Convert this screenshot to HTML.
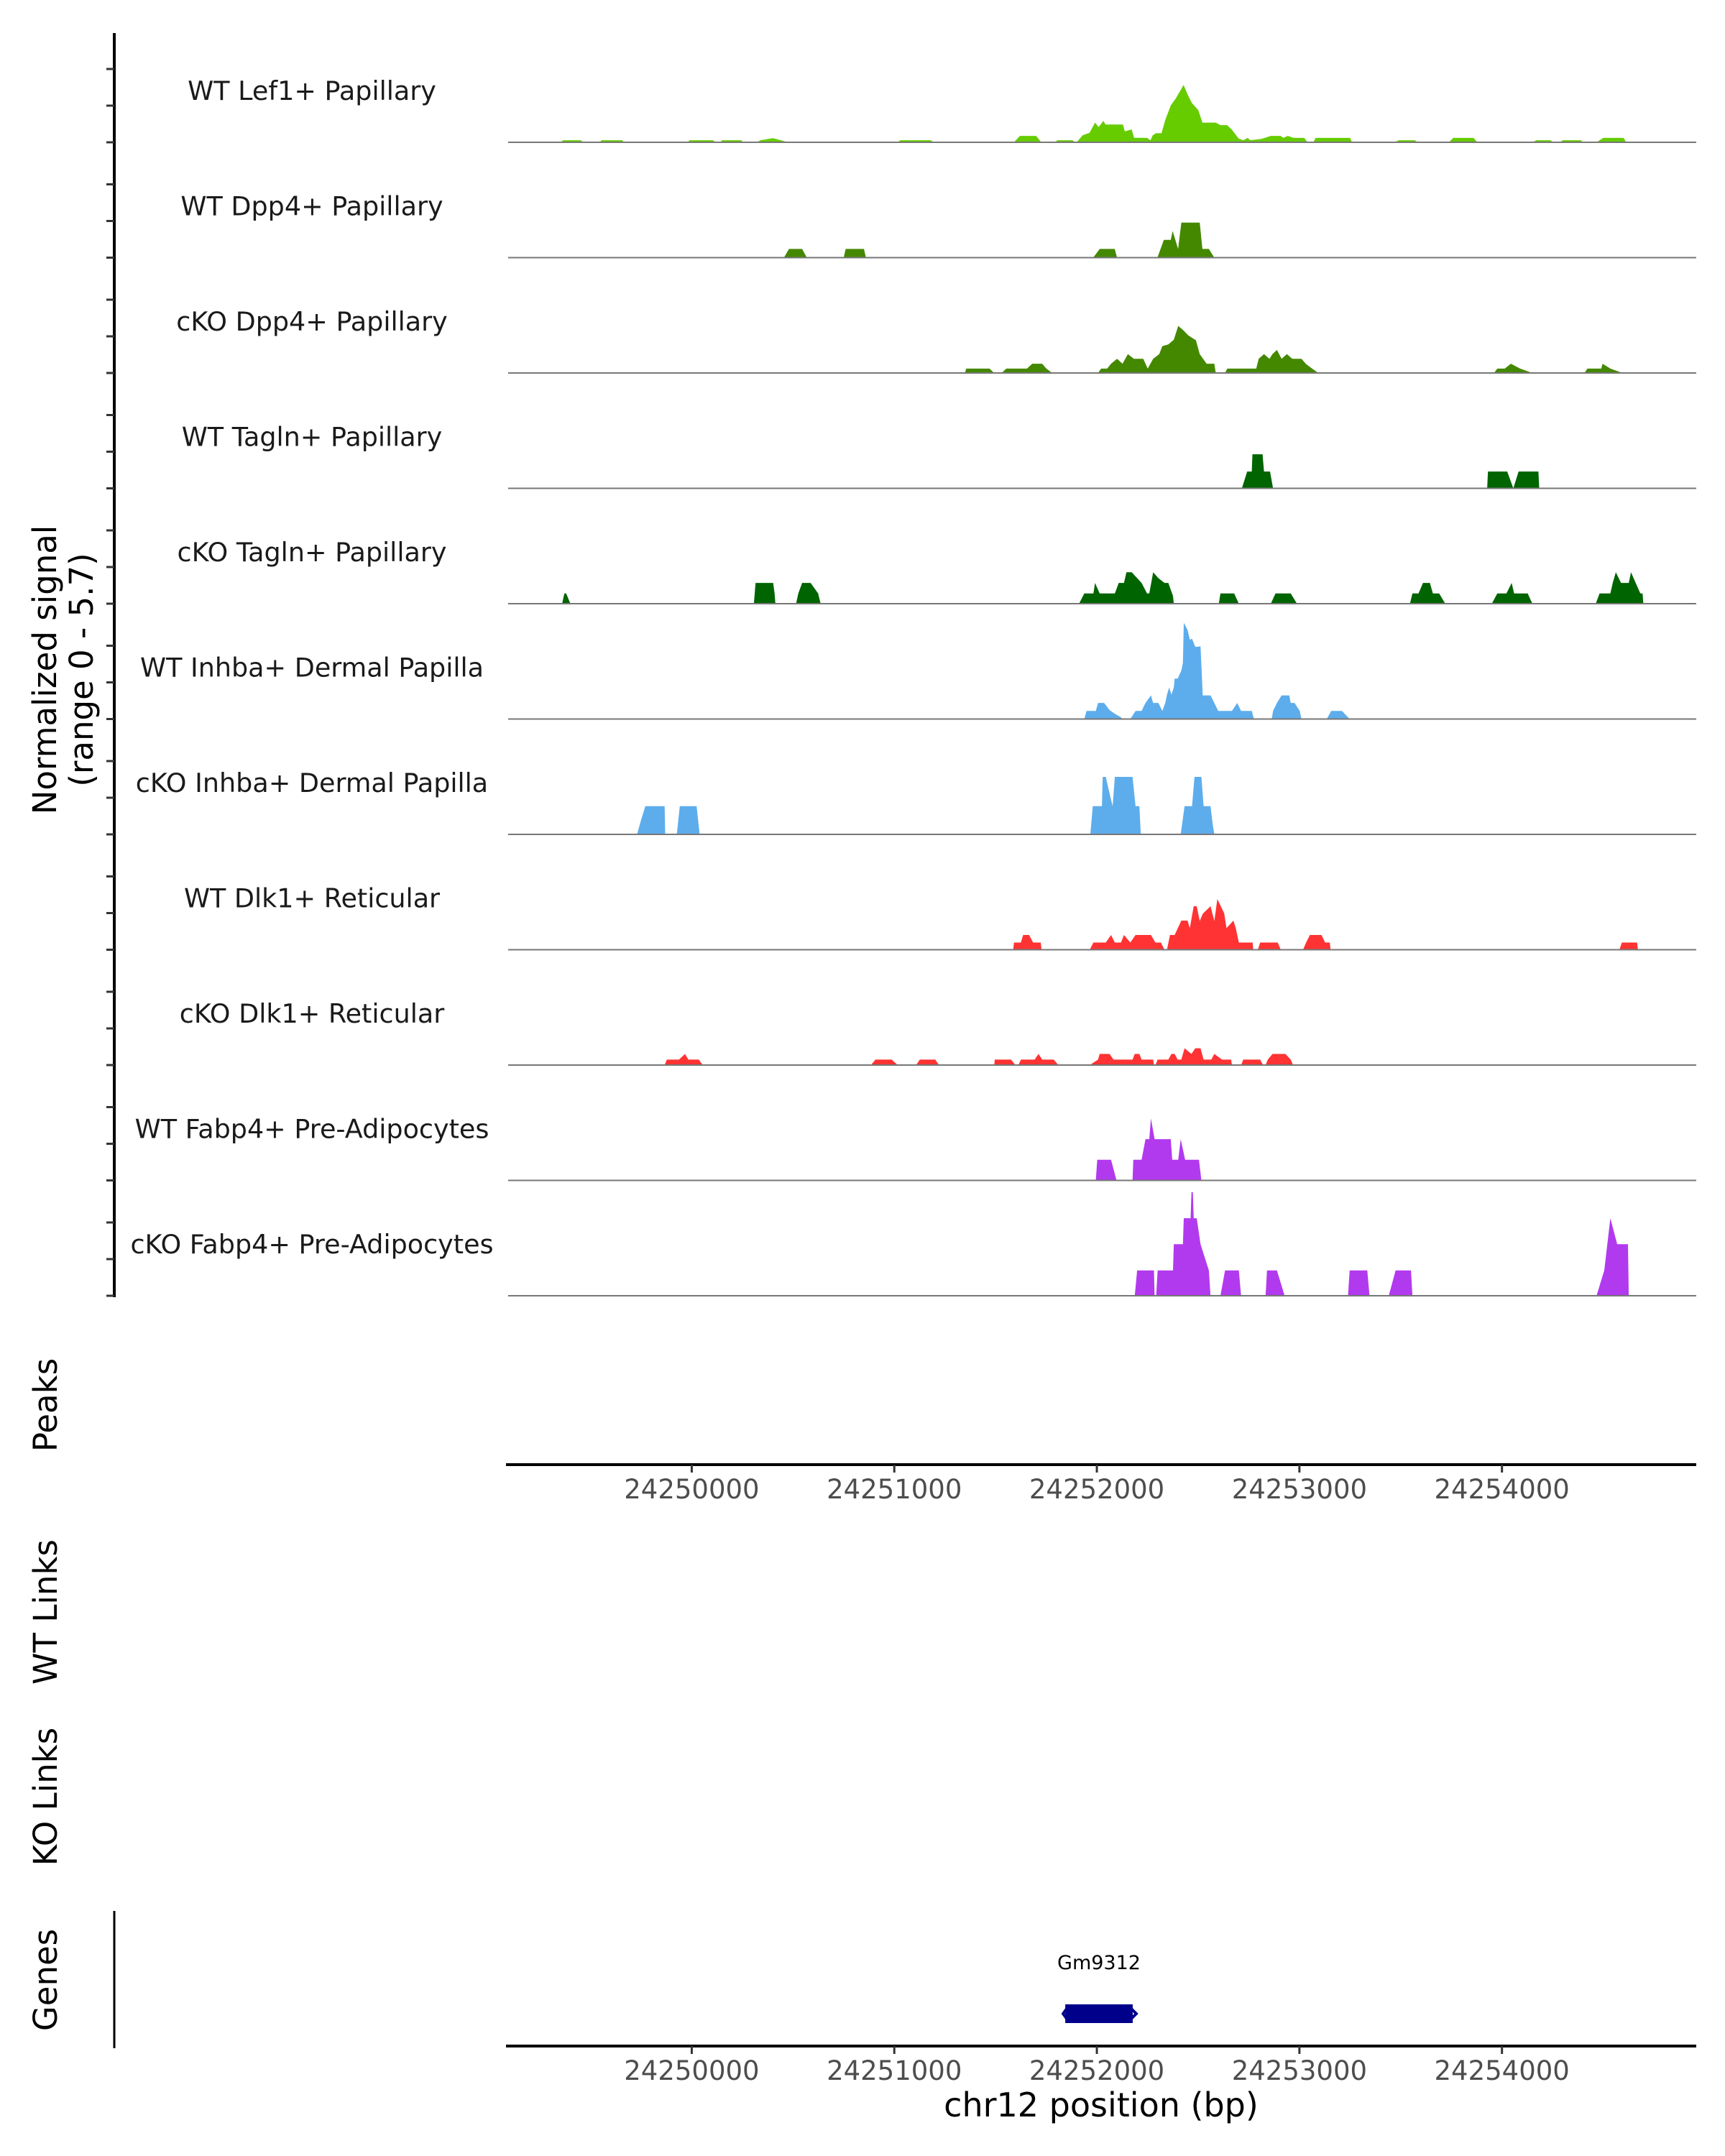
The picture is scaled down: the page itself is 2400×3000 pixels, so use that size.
<!DOCTYPE html>
<html>
<head>
<meta charset="utf-8">
<style>
  html, body { margin:0; padding:0; background:#fff; }
  svg { display:block; }
  text { font-family: "DejaVu Sans", "Liberation Sans", sans-serif; }
</style>
</head>
<body>
<svg id="chart" width="2400" height="3000" viewBox="0 0 2400 3000" xmlns="http://www.w3.org/2000/svg"></svg>
<script>
// ---- data ----
const trackLabels = ["WT Lef1+ Papillary","WT Dpp4+ Papillary","cKO Dpp4+ Papillary","WT Tagln+ Papillary","cKO Tagln+ Papillary","WT Inhba+ Dermal Papilla","cKO Inhba+ Dermal Papilla","WT Dlk1+ Reticular","cKO Dlk1+ Reticular","WT Fabp4+ Pre-Adipocytes","cKO Fabp4+ Pre-Adipocytes"];
const trackColors = ["#66CC00","#448800","#448800","#006400","#006400","#5DADEC","#5DADEC","#FF3333","#FF3333","#B23AEE","#B23AEE"];
const xTicks = [24250000,24251000,24252000,24253000,24254000];
const xDomain = [24249083,24254945];
const yRange = [0,5.7];
const geneName = "Gm9312";
const geneSpan = [24251844,24252177];

const wtLef1 = [[24249353,0],[24249365,0.11],[24249452,0.11],[24249464,0],[24249545,0],[24249555,0.11],[24249656,0.11],[24249666,0],[24249979,0],[24249990,0.11],[24250105,0.11],[24250117,0],[24250142,0],[24250150,0.11],[24250245,0.11],[24250252,0],[24250320,0],[24250340,0.11],[24250400,0.22],[24250440,0.11],[24250476,0],[24251016,0],[24251030,0.11],[24251180,0.11],[24251194,0],
[24251590,0],[24251610,0.22],[24251620,0.34],[24251700,0.34],[24251726,0],[24251794,0],[24251805,0.11],[24251880,0.11],[24251891,0],[24251900,0],[24251930,0.37],[24251964,0.5],[24251991,1.04],[24252009,0.81],[24252032,1.13],[24252043,0.94],[24252129,0.94],[24252138,0.58],[24252172,0.68],[24252184,0.24],[24252247,0.23],[24252265,0.11],[24252276,0.37],[24252292,0.48],[24252319,0.48],[24252338,1.19],[24252365,1.95],[24252390,2.33],[24252428,3.03],[24252451,2.46],[24252469,2.08],[24252501,1.7],[24252521,1.04],[24252587,1.04],[24252610,0.91],[24252643,0.91],[24252666,0.68],[24252700,0.2],[24252723,0.11],[24252745,0.23],[24252757,0.11],[24252813,0.18],[24252859,0.34],[24252908,0.34],[24252920,0.23],[24252943,0.34],[24252972,0.23],[24253024,0.23],[24253040,0],[24253069,0],[24253080,0.23],[24253250,0.23],[24253260,0],[24253470,0],[24253490,0.11],[24253570,0.11],[24253584,0],[24253738,0],[24253760,0.23],[24253860,0.23],[24253878,0],[24254150,0],[24254170,0.11],[24254240,0.11],[24254252,0],[24254286,0],[24254300,0.11],[24254390,0.11],[24254399,0],[24254467,0],[24254500,0.23],[24254600,0.23],[24254614,0]];
const wtDpp4 = [[24250455,0],[24250480,0.46],[24250545,0.46],[24250568,0],[24250750,0],[24250760,0.46],[24250850,0.46],[24250860,0],[24251982,0],[24252014,0.46],[24252088,0.46],[24252100,0],[24252299,0],[24252331,0.94],[24252365,0.94],[24252374,1.41],[24252401,0.46],[24252417,1.85],[24252508,1.85],[24252521,0.46],[24252553,0.46],[24252580,0]];
const koDpp4 = [[24251349,0],[24251355,0.23],[24251470,0.23],[24251493,0],[24251530,0],[24251553,0.23],[24251655,0.23],[24251681,0.49],[24251730,0.49],[24251749,0.25],[24251779,0],[24252006,0],[24252021,0.23],[24252051,0.23],[24252070,0.49],[24252100,0.75],[24252127,0.49],[24252153,1.0],[24252183,0.75],[24252229,0.75],[24252251,0.23],[24252278,0.75],[24252308,1.0],[24252323,1.42],[24252353,1.51],[24252380,1.76],[24252402,2.49],[24252429,2.24],[24252451,1.99],[24252489,1.73],[24252508,1.0],[24252542,0.49],[24252580,0.49],[24252587,0],[24252633,0],[24252644,0.23],[24252787,0.23],[24252799,0.75],[24252825,1.0],[24252852,0.75],[24252867,1.0],[24252889,1.22],[24252912,0.75],[24252938,1.0],[24252965,0.75],[24253010,0.75],[24253033,0.47],[24253063,0.23],[24253093,0],[24253961,0],[24253977,0.23],[24254014,0.23],[24254044,0.49],[24254090,0.23],[24254150,0],[24254407,0],[24254422,0.23],[24254490,0.23],[24254497,0.49],[24254535,0.23],[24254595,0]];
const wtTagln = [[24252716,0],[24252742,0.89],[24252765,0.89],[24252768,1.8],[24252818,1.8],[24252825,0.89],[24252855,0.89],[24252870,0],[24253927,0],[24253931,0.89],[24254026,0.89],[24254056,0],[24254082,0.89],[24254180,0.89],[24254184,0]];
const koTagln = [[24249360,0],[24249371,0.54],[24249380,0.54],[24249401,0],[24250307,0],[24250315,1.1],[24250402,1.1],[24250409,0.54],[24250413,0],[24250515,0],[24250526,0.54],[24250545,1.1],[24250587,1.1],[24250624,0.54],[24250636,0],[24251912,0],[24251938,0.54],[24251983,0.54],[24251991,1.1],[24252014,0.54],[24252089,0.54],[24252108,1.1],[24252134,1.1],[24252146,1.66],[24252172,1.66],[24252221,1.1],[24252248,0.54],[24252259,0.54],[24252278,1.66],[24252304,1.35],[24252334,1.1],[24252353,1.1],[24252376,0.41],[24252380,0],[24252602,0],[24252610,0.54],[24252678,0.54],[24252701,0],[24252859,0],[24252882,0.54],[24252957,0.54],[24252988,0],[24253546,0],[24253558,0.54],[24253588,0.54],[24253610,1.1],[24253644,1.1],[24253659,0.54],[24253690,0.54],[24253720,0],[24253950,0],[24253977,0.54],[24254022,0.54],[24254048,1.1],[24254060,0.54],[24254127,0.54],[24254150,0],[24254463,0],[24254482,0.54],[24254535,0.54],[24254547,1.1],[24254562,1.66],[24254588,1.1],[24254626,1.1],[24254637,1.66],[24254683,0.54],[24254694,0.54],[24254698,0]];
const wtInhba = [[24251938,0],[24251949,0.43],[24251995,0.43],[24252006,0.85],[24252036,0.85],[24252063,0.47],[24252089,0.28],[24252119,0.09],[24252127,0],[24252165,0],[24252191,0.43],[24252221,0.43],[24252240,0.85],[24252267,1.25],[24252278,0.85],[24252304,0.85],[24252323,0.43],[24252338,0.85],[24252346,1.29],[24252357,1.67],[24252368,1.29],[24252380,1.67],[24252384,2.14],[24252399,2.14],[24252417,2.56],[24252425,2.97],[24252429,5.09],[24252448,4.71],[24252459,4.2],[24252470,4.24],[24252486,3.82],[24252497,3.82],[24252512,3.85],[24252523,1.25],[24252561,1.25],[24252580,0.85],[24252599,0.43],[24252667,0.43],[24252693,0.85],[24252712,0.43],[24252765,0.43],[24252776,0],[24252863,0],[24252870,0.43],[24252889,0.85],[24252912,1.25],[24252950,1.25],[24252957,0.85],[24252976,0.85],[24253002,0.43],[24253010,0],[24253135,0],[24253157,0.43],[24253210,0.43],[24253248,0]];
const koInhba = [[24249730,0],[24249749,0.73],[24249771,1.49],[24249866,1.49],[24249869,0],[24249926,0],[24249941,1.49],[24250024,1.49],[24250039,0],[24251968,0],[24251980,1.49],[24252025,1.49],[24252029,3.04],[24252044,3.04],[24252063,2.15],[24252078,1.49],[24252089,3.04],[24252176,3.04],[24252191,1.49],[24252210,1.49],[24252217,0],[24252414,0],[24252433,1.49],[24252470,1.49],[24252482,3.04],[24252516,3.04],[24252527,1.49],[24252561,1.49],[24252572,0.51],[24252580,0]];
const wtDlk1 = [[24251587,0],[24251591,0.38],[24251625,0.38],[24251636,0.78],[24251666,0.78],[24251685,0.38],[24251723,0.38],[24251727,0],[24251965,0],[24251983,0.38],[24252044,0.38],[24252070,0.78],[24252089,0.38],[24252119,0.38],[24252134,0.78],[24252165,0.38],[24252191,0.78],[24252267,0.78],[24252289,0.38],[24252316,0.38],[24252334,0],[24252346,0],[24252361,0.78],[24252384,0.78],[24252417,1.54],[24252448,1.54],[24252459,1.14],[24252478,2.3],[24252493,2.3],[24252508,1.52],[24252523,1.9],[24252561,2.3],[24252580,1.52],[24252595,2.68],[24252629,1.92],[24252640,1.14],[24252674,1.54],[24252686,1.14],[24252701,0.38],[24252769,0.38],[24252772,0],[24252795,0],[24252806,0.38],[24252893,0.38],[24252908,0],[24253018,0],[24253033,0.38],[24253052,0.78],[24253109,0.78],[24253127,0.38],[24253150,0.38],[24253154,0],[24254580,0],[24254592,0.38],[24254667,0.38],[24254671,0]];
const koDlk1 = [[24249866,0],[24249877,0.29],[24249937,0.29],[24249967,0.59],[24249983,0.29],[24250035,0.29],[24250054,0],[24250885,0],[24250907,0.29],[24250987,0.29],[24251017,0],[24251108,0],[24251126,0.29],[24251202,0.29],[24251221,0],[24251493,0],[24251496,0.29],[24251576,0.29],[24251598,0],[24251613,0],[24251625,0.29],[24251693,0.29],[24251712,0.59],[24251730,0.29],[24251787,0.29],[24251810,0],[24251965,0],[24252006,0.29],[24252014,0.59],[24252063,0.59],[24252082,0.29],[24252176,0.29],[24252187,0.59],[24252210,0.59],[24252221,0.29],[24252278,0.29],[24252282,0],[24252289,0],[24252300,0.29],[24252353,0.29],[24252368,0.59],[24252384,0.59],[24252399,0.29],[24252417,0.29],[24252433,0.89],[24252467,0.59],[24252486,0.89],[24252512,0.89],[24252527,0.29],[24252565,0.29],[24252580,0.59],[24252618,0.29],[24252663,0.29],[24252667,0],[24252712,0],[24252723,0.29],[24252806,0.29],[24252821,0],[24252833,0],[24252844,0.29],[24252867,0.59],[24252931,0.59],[24252957,0.29],[24252969,0]];
const wtFabp4 = [[24251995,0],[24252002,1.09],[24252070,1.09],[24252097,0],[24252176,0],[24252180,1.09],[24252221,1.09],[24252240,2.18],[24252259,2.18],[24252267,3.28],[24252285,2.18],[24252365,2.18],[24252372,1.09],[24252402,1.09],[24252414,2.18],[24252436,1.09],[24252504,1.09],[24252516,0]];
const koFabp4 = [[24252187,0],[24252199,1.34],[24252282,1.34],[24252285,0],[24252293,0],[24252300,1.34],[24252376,1.34],[24252380,2.73],[24252425,2.73],[24252429,4.1],[24252463,4.1],[24252467,5.48],[24252474,5.48],[24252478,4.1],[24252493,4.1],[24252512,2.73],[24252553,1.34],[24252561,0],[24252610,0],[24252633,1.34],[24252701,1.34],[24252712,0],[24252833,0],[24252840,1.34],[24252889,1.34],[24252927,0],[24253240,0],[24253248,1.34],[24253335,1.34],[24253346,0],[24253441,0],[24253475,1.34],[24253551,1.34],[24253558,0],[24254467,0],[24254505,1.34],[24254535,4.1],[24254569,2.73],[24254622,2.73],[24254626,0]];

const trackData = [wtLef1, wtDpp4, koDpp4, wtTagln, koTagln, wtInhba, koInhba, wtDlk1, koDlk1, wtFabp4, koFabp4];

// ---- layout ----
const NS = "http://www.w3.org/2000/svg";
const svg = document.getElementById('chart');
const plotL = 704, plotR = 2356;
const firstBase = 198, trackStep = 160.5, trackH = 150;
function xScale(bp){ return plotL + (bp - xDomain[0]) / (xDomain[1] - xDomain[0]) * (plotR - plotL); }
function yScale(v, base){ return base - (v - yRange[0]) / (yRange[1] - yRange[0]) * trackH; }
function mk(tag, attrs, parent){
  const e = document.createElementNS(NS, tag);
  for (const k in attrs) e.setAttribute(k, attrs[k]);
  (parent || svg).appendChild(e);
  return e;
}
function txt(str, attrs, parent){ const t = mk('text', attrs, parent); t.textContent = str; return t; }

// left y axis
const yAxis = mk('line', {x1:159, y1:46, x2:159, y2:firstBase + 10*trackStep + 2, stroke:'#000', 'stroke-width':4});



trackData.forEach((pts, i) => {
  const base = firstBase + i*trackStep;
  const g = mk('g', {});
  
  
  [0, 2, 4].forEach(v => {
    const y = base - v * 25.5;
    const tk = mk('line', {x1:148, y1:y, x2:159, y2:y, stroke:'#333', 'stroke-width':3}, g);
    
    
  });
  const lb = txt(trackLabels[i], {x:434, y:base - 59, 'text-anchor':'middle', 'font-size':36.5, fill:'#1a1a1a'}, g);
  
  
  let d = 'M' + xScale(pts[0][0]).toFixed(1) + ',' + base;
  pts.forEach(p => { d += ' L' + xScale(p[0]).toFixed(1) + ',' + yScale(p[1], base).toFixed(1); });
  d += ' L' + xScale(pts[pts.length-1][0]).toFixed(1) + ',' + base + ' Z';
  const area = mk('path', {d:d, fill:trackColors[i], stroke:'none'}, g);
  
  
  const bl = mk('line', {x1:plotL+3, y1:base, x2:plotR+4, y2:base, stroke:'#777', 'stroke-width':2}, g);
  
  
});

// y axis title
const yt = txt('', {transform:'translate(85,932) rotate(-90)', 'text-anchor':'middle', 'font-size':45, fill:'#000'});


const t1 = mk('tspan', {x:0, y:-7}, yt); t1.textContent = 'Normalized signal';
const t2 = mk('tspan', {x:0, y:44}, yt); t2.textContent = '(range 0 - 5.7)';

// side titles
[['Peaks',1955,'peaks-title'],['WT Links',2243,'wt-links-title'],['KO Links',2500,'ko-links-title'],['Genes',2755,'genes-title']].forEach(s => {
  const t = txt(s[0], {transform:'translate(79,' + s[1] + ') rotate(-90)', 'text-anchor':'middle', 'font-size':45, fill:'#000'});
  
  
});

// x axes
function xAxis(y, name){
  const g = mk('g', {});
  
  
  mk('line', {x1:plotL, y1:y, x2:plotR+4, y2:y, stroke:'#000', 'stroke-width':4}, g);
  xTicks.forEach(t => {
    const x = xScale(t);
    mk('line', {x1:x, y1:y, x2:x, y2:y+11, stroke:'#333', 'stroke-width':3}, g);
    const lab = txt(String(t), {x:x, y:y+47, 'text-anchor':'middle', 'font-size':37, fill:'#4d4d4d'}, g);
    
    
  });
}
xAxis(2038, 'peaks-x-axis');
xAxis(2847, 'genes-x-axis');

const xt = txt('chr12 position (bp)', {x:1532, y:2945, 'text-anchor':'middle', 'font-size':46, fill:'#000'});



// genes track
const gl = mk('line', {x1:159, y1:2659, x2:159, y2:2850, stroke:'#000', 'stroke-width':3});


const gx1 = xScale(geneSpan[0]), gx2 = xScale(geneSpan[1]);
const gname = txt(geneName, {x:(gx1+gx2)/2, y:2740, 'text-anchor':'middle', 'font-size':27, fill:'#000'});


const gbox = mk('rect', {x:gx1, y:2789, width:gx2-gx1, height:26, fill:'#00008B'});


const garr = mk('path', {d:'M'+(gx2-4)+',2793 L'+(gx2+5)+',2802 L'+(gx2-4)+',2811', stroke:'#00008B', 'stroke-width':4, fill:'none'});


const garl = mk('path', {d:'M'+(gx1+2)+',2795 L'+(gx1-3)+',2802 L'+(gx1+2)+',2809', stroke:'#00008B', 'stroke-width':4, fill:'none'});


</script>
</body>
</html>
